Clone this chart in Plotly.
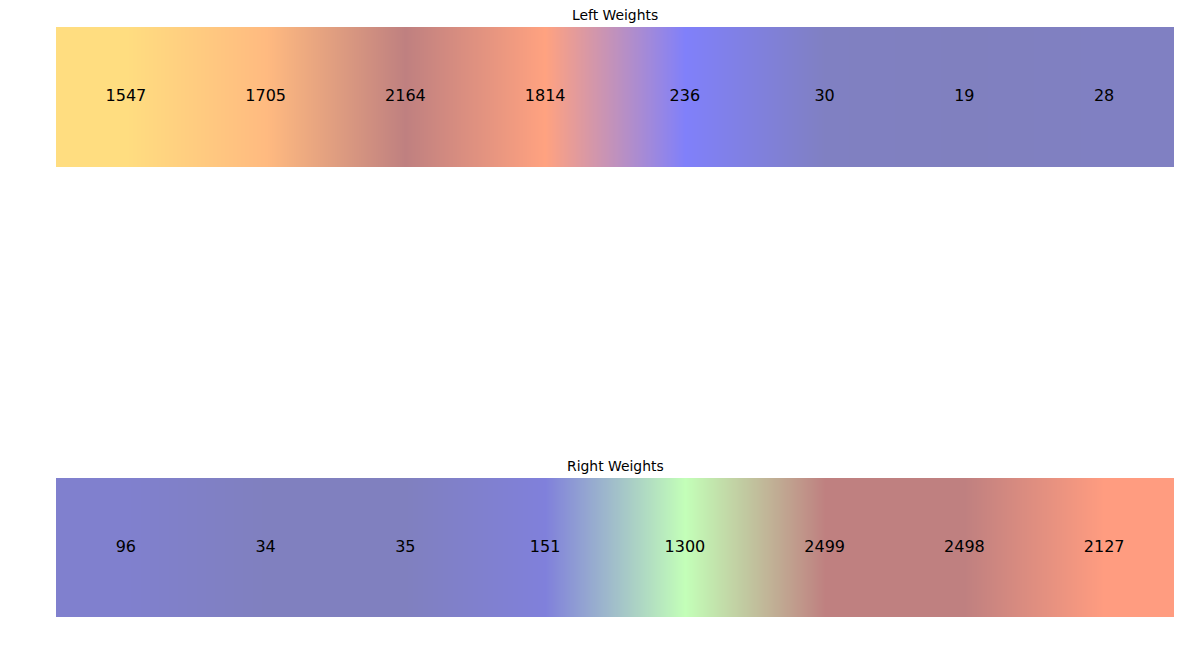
import plotly.graph_objects as go

left_title = "Left Weights"
right_title = "Right Weights"
left_values = [1547, 1705, 2164, 1814, 236, 30, 19, 28]
right_values = [96, 34, 35, 151, 1300, 2499, 2498, 2127]


# matplotlib "jet" colormap segments
def jet_rgb(t):
    def seg(pts):
        for (x0, y0), (x1, y1) in zip(pts[:-1], pts[1:]):
            if x0 <= t <= x1:
                return y0 + (y1 - y0) * (t - x0) / (x1 - x0) if x1 > x0 else y1
        return pts[-1][1]
    r = seg([(0, 0), (0.35, 0), (0.66, 1), (0.89, 1), (1, 0.5)])
    g = seg([(0, 0), (0.125, 0), (0.375, 1), (0.64, 1), (0.91, 0), (1, 0)])
    b = seg([(0, 0.5), (0.11, 1), (0.34, 1), (0.65, 0), (1, 0)])
    return r, g, b


def strip_scale(values, alpha=0.5):
    lo, hi = min(values), max(values)
    n = len(values)
    stops = []
    for i, v in enumerate(values):
        t = (v - lo) / (hi - lo)
        r, g, b = jet_rgb(t)
        c = [round(255 * (alpha * k + (1 - alpha))) for k in (r, g, b)]
        stops.append([i / (n - 1), f"rgb({c[0]},{c[1]},{c[2]})"])
    return stops


fig = go.Figure()
FONT = "DejaVu Sans"

for k, (vals, title) in enumerate([(left_values, left_title), (right_values, right_title)]):
    n = len(vals)
    xa = "x" if k == 0 else "x2"
    ya = "y" if k == 0 else "y2"
    fig.add_trace(go.Heatmap(
        z=[list(range(n))], x=list(range(n)), y=[0],
        colorscale=strip_scale(vals), zmin=0, zmax=n - 1,
        zsmooth="best", showscale=False,
        customdata=[vals], hovertemplate="%{customdata}<extra></extra>",
        xaxis=xa, yaxis=ya,
    ))
    fig.add_trace(go.Scatter(
        x=list(range(n)), y=[0] * n, mode="text",
        text=[str(v) for v in vals],
        textfont=dict(family=FONT, size=16, color="black"),
        hoverinfo="skip", showlegend=False, xaxis=xa, yaxis=ya,
    ))

W, H = 1167, 635
xdom = [48 / W, 1166 / W]
top_dom = [1 - 159 / H, 1 - 19 / H]
bot_dom = [1 - 609 / H, 1 - 470 / H]
axis_common = dict(showgrid=False, zeroline=False, showticklabels=False, ticks="", showline=False)
fig.update_layout(
    width=W, height=H,
    margin=dict(l=0, r=0, t=0, b=0),
    paper_bgcolor="white", plot_bgcolor="white",
    showlegend=False,
    xaxis=dict(domain=xdom, range=[-0.5, 7.5], anchor="y", **axis_common),
    yaxis=dict(domain=top_dom, range=[-0.5, 0.5], anchor="x", **axis_common),
    xaxis2=dict(domain=xdom, range=[-0.5, 7.5], anchor="y2", **axis_common),
    yaxis2=dict(domain=bot_dom, range=[-0.5, 0.5], anchor="x2", **axis_common),
    annotations=[
        dict(text=left_title, xref="paper", yref="paper", x=(xdom[0] + xdom[1]) / 2,
             y=top_dom[1], yanchor="bottom", xanchor="center", yshift=2, showarrow=False,
             font=dict(family=FONT, size=13.9, color="black")),
        dict(text=right_title, xref="paper", yref="paper", x=(xdom[0] + xdom[1]) / 2,
             y=bot_dom[1], yanchor="bottom", xanchor="center", yshift=2, showarrow=False,
             font=dict(family=FONT, size=13.9, color="black")),
    ],
)
fig.write_html("out.html")
